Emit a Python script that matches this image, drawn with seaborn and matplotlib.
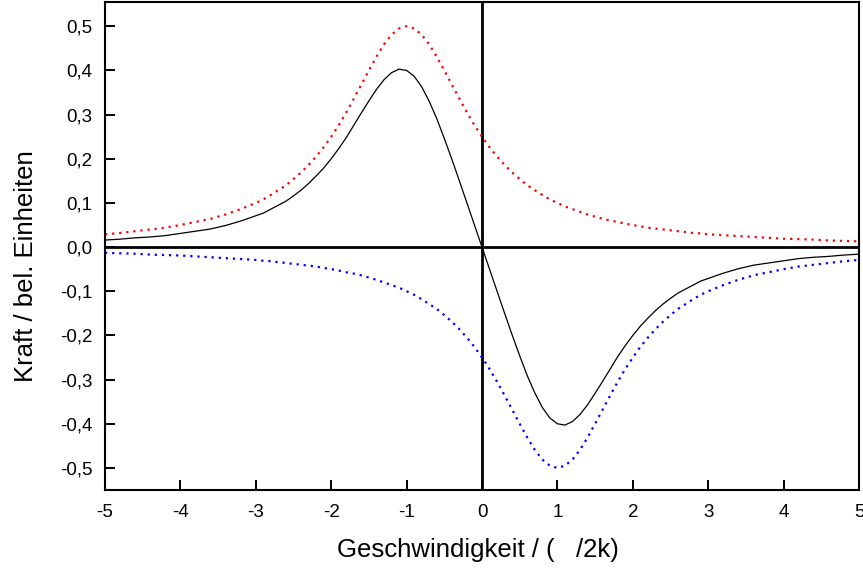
import numpy as np
import pandas as pd
import matplotlib
matplotlib.use("Agg")
import matplotlib.pyplot as plt
import seaborn as sns

# Geschwindigkeit (x) values
x_vals = [-5.0, -4.8, -4.6, -4.4, -4.2, -4.0, -3.8, -3.6, -3.4, -3.2,
          -3.0, -2.9, -2.8, -2.7, -2.6, -2.5, -2.4, -2.3, -2.2, -2.1,
          -2.0, -1.9, -1.8, -1.7, -1.6, -1.5, -1.4, -1.3, -1.2, -1.1,
          -1.0,
          -0.9, -0.8, -0.7, -0.6, -0.5, -0.4, -0.3, -0.2, -0.1, 0.0,
          0.1, 0.2, 0.3, 0.4, 0.5, 0.6, 0.7, 0.8, 0.9, 1.0,
          1.1, 1.2, 1.3, 1.4, 1.5, 1.6, 1.7, 1.8, 1.9, 2.0,
          2.1, 2.2, 2.3, 2.4, 2.5, 2.6, 2.7, 2.8, 2.9, 3.0,
          3.2, 3.4, 3.6, 3.8, 4.0, 4.2, 4.4, 4.6, 4.8, 5.0]

# red dotted curve
red_vals = [0.029, 0.032, 0.036, 0.040, 0.044, 0.050, 0.057, 0.064, 0.074, 0.086,
            0.100, 0.108, 0.118, 0.129, 0.140, 0.154, 0.169, 0.186, 0.205, 0.226,
            0.250, 0.276, 0.305, 0.336, 0.368, 0.400, 0.431, 0.459, 0.481, 0.495,
            0.500,
            0.495, 0.481, 0.459, 0.431, 0.400, 0.368, 0.336, 0.305, 0.276, 0.250,
            0.226, 0.205, 0.186, 0.169, 0.154, 0.140, 0.129, 0.118, 0.108, 0.100,
            0.092, 0.086, 0.080, 0.074, 0.069, 0.064, 0.060, 0.057, 0.053, 0.050,
            0.047, 0.044, 0.042, 0.040, 0.038, 0.036, 0.034, 0.032, 0.031, 0.029,
            0.027, 0.025, 0.023, 0.021, 0.019, 0.018, 0.017, 0.015, 0.014, 0.013]

# blue dotted curve
blue_vals = [-0.013, -0.014, -0.015, -0.017, -0.018, -0.019, -0.021, -0.023, -0.025, -0.027,
             -0.029, -0.031, -0.032, -0.034, -0.036, -0.038, -0.040, -0.042, -0.044, -0.047,
             -0.050, -0.053, -0.057, -0.060, -0.064, -0.069, -0.074, -0.080, -0.086, -0.092,
             -0.100,
             -0.108, -0.118, -0.129, -0.140, -0.154, -0.169, -0.186, -0.205, -0.226, -0.250,
             -0.276, -0.305, -0.336, -0.368, -0.400, -0.431, -0.459, -0.481, -0.495, -0.500,
             -0.495, -0.481, -0.459, -0.431, -0.400, -0.368, -0.336, -0.305, -0.276, -0.250,
             -0.226, -0.205, -0.186, -0.169, -0.154, -0.140, -0.129, -0.118, -0.108, -0.100,
             -0.086, -0.074, -0.064, -0.057, -0.050, -0.044, -0.040, -0.036, -0.032, -0.029]

# black solid curve (total force)
black_vals = [0.016, 0.018, 0.021, 0.023, 0.026, 0.031, 0.036, 0.041, 0.049, 0.059,
              0.071, 0.077, 0.086, 0.095, 0.104, 0.116, 0.129, 0.144, 0.161, 0.179,
              0.200, 0.223, 0.248, 0.276, 0.304, 0.331, 0.357, 0.379, 0.395, 0.403,
              0.400,
              0.387, 0.363, 0.330, 0.291, 0.246, 0.199, 0.150, 0.100, 0.050, 0.000,
              -0.050, -0.100, -0.150, -0.199, -0.246, -0.291, -0.330, -0.363, -0.387, -0.400,
              -0.403, -0.395, -0.379, -0.357, -0.331, -0.304, -0.276, -0.248, -0.223, -0.200,
              -0.179, -0.161, -0.144, -0.129, -0.116, -0.104, -0.095, -0.086, -0.077, -0.071,
              -0.059, -0.049, -0.041, -0.036, -0.031, -0.026, -0.023, -0.021, -0.018, -0.016]

x_ticks = [-5, -4, -3, -2, -1, 0, 1, 2, 3, 4, 5]
x_tick_labels = ["-5", "-4", "-3", "-2", "-1", "0", "1", "2", "3", "4", "5"]
y_ticks = [-0.5, -0.4, -0.3, -0.2, -0.1, 0.0, 0.1, 0.2, 0.3, 0.4, 0.5]
y_tick_labels = ["-0,5", "-0,4", "-0,3", "-0,2", "-0,1", "0,0", "0,1", "0,2", "0,3", "0,4", "0,5"]

x_label = "Geschwindigkeit / (   /2k)"
y_label = "Kraft / bel. Einheiten"

sns.set_theme(style="white")
plt.rcParams['font.family'] = ['Liberation Sans', 'DejaVu Sans']
plt.rcParams['text.color'] = 'black'
plt.rcParams['axes.labelcolor'] = 'black'
plt.rcParams['xtick.color'] = 'black'
plt.rcParams['ytick.color'] = 'black'

df = pd.DataFrame({"x": x_vals, "red": red_vals, "blue": blue_vals, "black": black_vals})

fig = plt.figure(figsize=(8.63, 5.69), dpi=100)
ax = fig.add_axes([105 / 863, 1 - 490 / 569, (859 - 105) / 863, (490 - 2) / 569])

ax.axhline(0, color="black", lw=2.0, zorder=1)
ax.axvline(0, color="black", lw=2.0, zorder=1)

sns.lineplot(data=df, x="x", y="red", ax=ax, color="red", lw=1.6,
             linestyle=(0, (1, 2.2)), zorder=2)
sns.lineplot(data=df, x="x", y="blue", ax=ax, color="blue", lw=1.6,
             linestyle=(0, (1, 2.2)), zorder=2)
sns.lineplot(data=df, x="x", y="black", ax=ax, color="black", lw=0.9, zorder=3)

ax.set_xlim(-5, 5)
ax.set_ylim(-0.55, 0.555)
ax.set_xticks(x_ticks)
ax.set_xticklabels(x_tick_labels)
ax.set_yticks(y_ticks)
ax.set_yticklabels(y_tick_labels)
ax.tick_params(axis="x", direction="in", length=7, width=1.4, labelsize=13.5,
               bottom=True, top=False, colors="black", labelcolor="black", pad=10)
ax.tick_params(axis="y", direction="in", length=7, width=1.4, labelsize=13.5,
               left=True, right=False, colors="black", labelcolor="black", pad=9)
for s in ax.spines.values():
    s.set_visible(True)
    s.set_color("black")
    s.set_linewidth(1.5)

ax.set_xlabel(x_label, fontsize=18.5, labelpad=12, color="black", x=0.494)
ax.set_ylabel(y_label, fontsize=18.5, labelpad=16, color="black", y=0.459)

fig.savefig("out.png", dpi=100)
